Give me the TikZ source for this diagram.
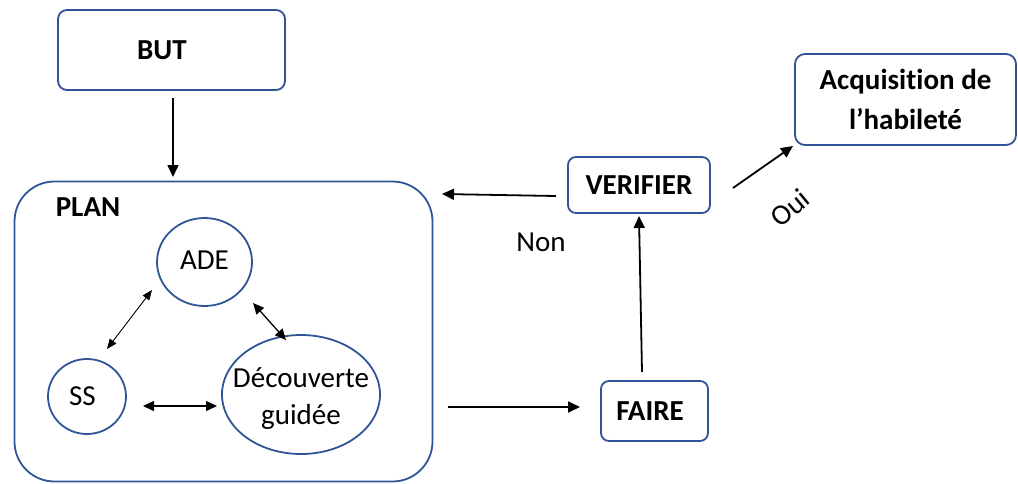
\documentclass[tikz,border=0pt]{standalone}
\usepackage{fontspec}
\setmainfont{Carlito}[Ligatures={NoCommon}]
\usetikzlibrary{arrows.meta,shapes.geometric}
\definecolor{bord}{RGB}{47,85,151}
\begin{document}
\begin{tikzpicture}[x=1pt,y=-1pt,
  box/.style={draw=bord, line width=1.8pt, rounded corners=9pt, align=center, inner sep=0pt,
    font=\fontsize{29}{40}\selectfont\bfseries},
  circ/.style={draw=bord, line width=1.8pt, ellipse, inner sep=0pt, align=center,
    font=\fontsize{29}{37}\selectfont},
  lbl/.style={font=\fontsize{29}{36}\selectfont, inner sep=0pt},
  arr/.style={line width=1.8pt, -{Triangle[length=12pt,width=11pt]}},
  dbl/.style={line width=1.3pt, {Triangle[length=11pt,width=10pt]}-{Triangle[length=11pt,width=10pt]}},
  dblthin/.style={line width=0.9pt, {Triangle[length=10pt,width=8pt]}-{Triangle[length=10pt,width=8pt]}}]
\useasboundingbox (0,0) rectangle (1018,483);
% boxes
\node[box, minimum width=227pt, minimum height=80pt] (but) at (171.5,50) {BUT\hspace*{19pt}};
\node[draw=bord, line width=1.8pt, rounded corners=40pt, minimum width=418pt, minimum height=300pt, inner sep=0pt] (plan) at (223.5,331.5) {};
\node[lbl, font=\fontsize{29}{36}\selectfont\bfseries] (planlbl) at (88,207) {PLAN};
\node[circ, minimum width=95pt, minimum height=88pt] (ade) at (204.5,262) {\raisebox{4pt}{ADE}};
\node[circ, minimum width=78pt, minimum height=75pt] (ss) at (87,396.5) {SS\hspace*{9pt}};
\node[circ, minimum width=158pt, minimum height=119pt] (dec) at (301,394.5)
  {\smash{\makebox[0pt]{\raisebox{-10pt}{\begin{tabular}{@{}c@{}}Découverte\\guidée\end{tabular}}}}};
\node[box, minimum width=142pt, minimum height=56pt, rounded corners=8pt] (verif) at (639,185) {VERIFIER};
\node[box, minimum width=107pt, minimum height=60pt, rounded corners=8pt] (faire) at (654.5,411) {FAIRE\hspace*{9pt}};
\node[box, minimum width=221pt, minimum height=91pt, rounded corners=10pt] (acq) at (905.5,99.5) {Acquisition de\\l’habileté};
% labels
\node[lbl] (non) at (541,242) {Non};
\node[lbl, rotate=40] (oui) at (790,208) {Oui};
% connectors
\draw[arr, line width=1.5pt] ([xshift=1.5pt,yshift=-48pt]but.center) -- ([xshift=-50.5pt,yshift=154.5pt]plan.center);
\draw[dblthin] ([xshift=-52.5pt,yshift=-28pt]ade.center) -- ([xshift=20pt,yshift=47.5pt]ss.center);
\draw[dbl] ([xshift=48.5pt,yshift=-41pt]ade.center) -- ([xshift=-15pt,yshift=54.5pt]dec.center);
\draw[dbl] ([xshift=56pt,yshift=-9.5pt]ss.center) -- ([xshift=-84pt,yshift=-11.5pt]dec.center);
\draw[arr] ([xshift=224.5pt,yshift=-75.5pt]plan.center) -- ([xshift=-74.5pt,yshift=4pt]faire.center);
\draw[arr] ([xshift=-12.5pt,yshift=39pt]faire.center) -- ([xshift=0pt,yshift=-31pt]verif.center);
\draw[arr] ([xshift=-83pt,yshift=-11pt]verif.center) -- ([xshift=218.5pt,yshift=137.5pt]plan.center);
\draw[arr] ([xshift=94pt,yshift=-3pt]verif.center) -- ([xshift=-112.5pt,yshift=-46.5pt]acq.center);
\end{tikzpicture}
\end{document}
